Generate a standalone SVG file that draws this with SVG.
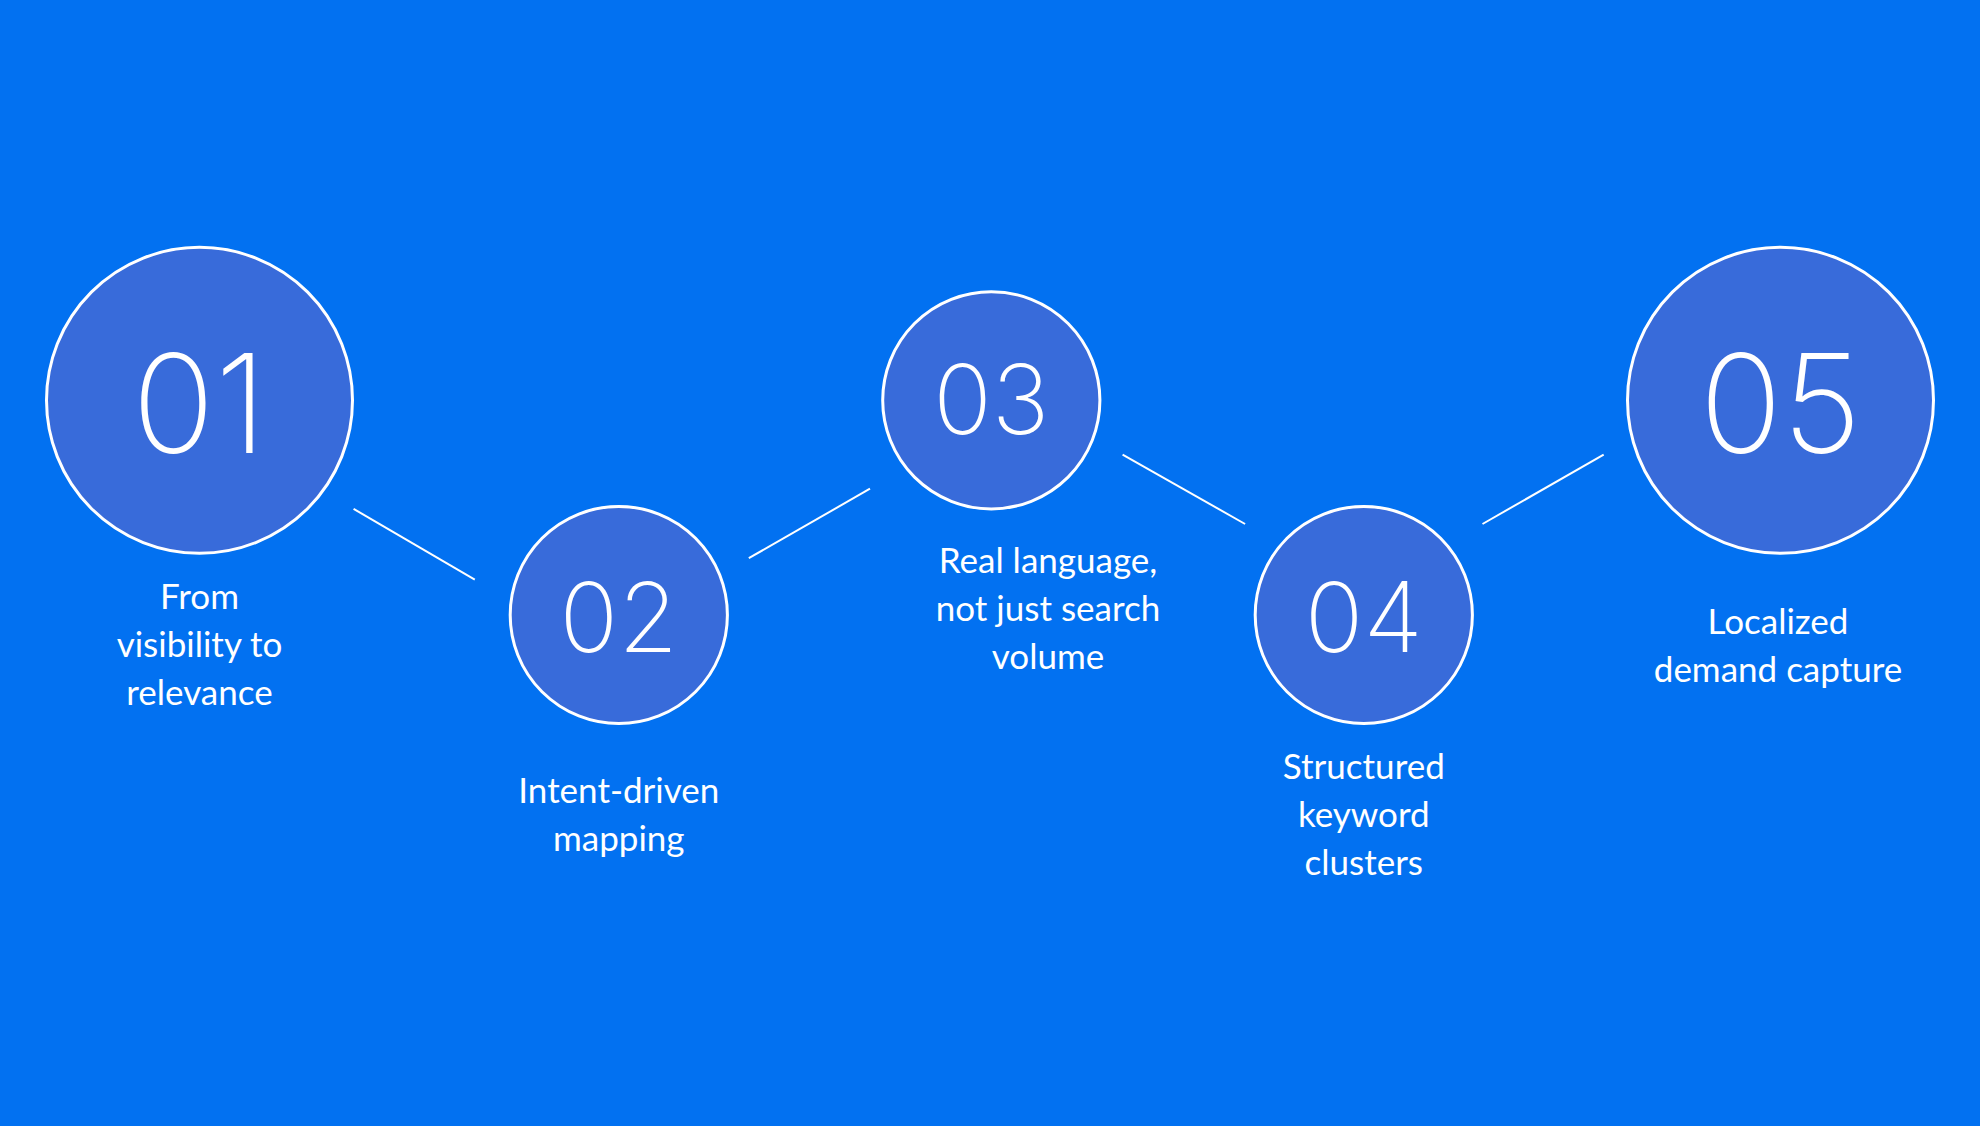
<svg xmlns="http://www.w3.org/2000/svg" width="1980" height="1126" viewBox="0 0 1980 1126">
<style>
.c{fill:#386BDA;stroke:#fff;stroke-width:3}
.n{fill:#fff;font-family:Inter,"Noto Sans",sans-serif;font-weight:200;text-anchor:middle}
.l{fill:#fff;font-family:Lato,"Noto Sans",sans-serif;font-size:35px;text-anchor:middle}
.k{stroke:#fff;stroke-width:2}
</style>
<rect width="1980" height="1126" fill="#0271F1"/>
<g id="connectors">
<line class="k" x1="353.6" y1="508.9" x2="474.8" y2="579.6"/>
<line class="k" x1="748.8" y1="558.2" x2="870" y2="488.7"/>
<line class="k" x1="1122.6" y1="454.6" x2="1245.1" y2="524"/>
<line class="k" x1="1482.5" y1="524" x2="1603.7" y2="454.6"/>
</g>
<g id="n1"><circle class="c" cx="199.5" cy="400.3" r="153"/><text class="n" x="199.5" y="453" font-size="137">01</text>
<text class="l" x="199.5" y="608.7">From</text><text class="l" x="199.5" y="656.7">visibility to</text><text class="l" x="199.5" y="704.7">relevance</text></g>
<g id="n2"><circle class="c" cx="618.8" cy="615" r="108.6"/><text class="n" x="618.8" y="651.6" font-size="97">02</text>
<text class="l" x="618.8" y="803">Intent-driven</text><text class="l" x="618.8" y="851">mapping</text></g>
<g id="n3"><circle class="c" cx="991.3" cy="400.3" r="108.6"/><text class="n" x="991.3" y="434.4" font-size="97">03</text>
<text class="l" x="1048" y="573.3">Real language,</text><text class="l" x="1048" y="621.3">not just search</text><text class="l" x="1048" y="669.3">volume</text></g>
<g id="n4"><circle class="c" cx="1363.8" cy="615" r="108.6"/><text class="n" x="1363.8" y="651.6" font-size="97">04</text>
<text class="l" x="1363.8" y="779.2">Structured</text><text class="l" x="1363.8" y="827.1">keyword</text><text class="l" x="1363.8" y="875.1">clusters</text></g>
<g id="n5"><circle class="c" cx="1780.5" cy="400.3" r="153"/><text class="n" x="1780.5" y="453" font-size="137">05</text>
<text class="l" x="1778" y="634">Localized</text><text class="l" x="1778" y="682">demand capture</text></g>
</svg>
